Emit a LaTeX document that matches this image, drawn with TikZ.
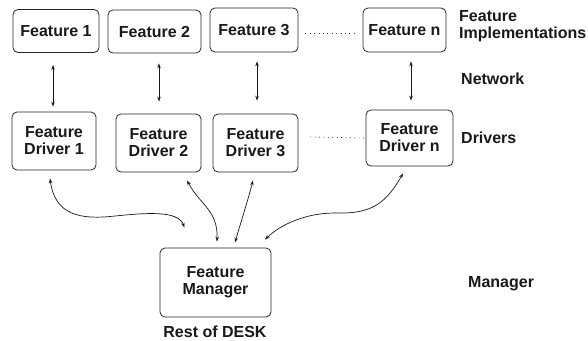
\documentclass[tikz,border=0pt]{standalone}
\usepackage{fontspec}
\setmainfont{Liberation Sans}
\usetikzlibrary{arrows.meta,calc}
\begin{document}
\begin{tikzpicture}[x=1pt,y=-1pt,
  txt/.style={font=\fontsize{16}{17}\selectfont\bfseries,text=black!90},
  box/.style={txt,draw=black!85,line width=0.8pt,rounded corners=5pt,align=center,inner sep=0pt},
  lab/.style={txt,inner sep=0pt,align=left,anchor=base west},
  conn/.style={line width=0.7pt,draw=black!90,{Stealth[length=5pt,width=3.5pt]}-{Stealth[length=5pt,width=3.5pt]}},
  dots/.style={line width=0.7pt,dash pattern=on 0.8pt off 3.6pt,draw=black!80}]
\useasboundingbox (0,0) rectangle (588,340);
\node[box,minimum width=86,minimum height=43] (F1) at (56,31) {Feature 1};
\node[box,minimum width=93,minimum height=43] (F2) at (154.5,31.5) {Feature 2};
\node[box,minimum width=88,minimum height=44] (F3) at (254,30) {Feature 3};
\node[box,minimum width=83,minimum height=44] (Fn) at (404.5,30) {Feature n};
\node[box,minimum width=84,minimum height=58] (D1) at (54,141) {Feature\\Driver 1};
\node[box,minimum width=85,minimum height=58] (D2) at (158.5,143) {Feature\\Driver 2};
\node[box,minimum width=85,minimum height=58] (D3) at (255.5,143) {Feature\\Driver 3};
\node[box,minimum width=87,minimum height=56] (Dn) at (409.5,138) {Feature\\Driver n};
\node[box,minimum width=111,minimum height=69] (M) at (215.5,282.5) {Feature\\Manager};
\node[txt,inner sep=0pt,anchor=base] (R) at (215,337) {Rest of DESK};
\node[lab] (LI) at (459,38) {Feature\\Implementations};
\node[lab] (LN) at (461,84) {Network};
\node[lab] (LD) at (461,143) {Drivers};
\node[lab] (LM) at (468,287) {Manager};
% vertical arrows
\draw[conn] ($(F1.south)+(-3,12)$) -- ($(D1.north)+(-1,-5)$);
\draw[conn] ($(F2.south)+(4.5,10)$) -- ($(D2.north)+(0.5,-12)$);
\draw[conn] ($(F3.south)+(3,9)$) -- ($(D3.north)+(1.5,-13)$);
\draw[conn] ($(Fn.south)+(6.5,9)$) -- ($(Dn.north)+(1.5,-9)$);
% dotted
\draw[dots] ($(F3.east)+(7,3)$) -- ($(Fn.west)+(-6,3)$);
\draw[dots] ($(D3.east)+(12,-6)$) -- (Dn.west);
% curves
\draw[conn] ($(D1.south)+(-4,8)$) .. controls (55,215) and (80,220) .. (115,216) .. controls (145,213) and (178,210) .. ($(M.north)+(-31,-20)$);
\draw[conn] ($(D2.south)+(28.5,8)$) .. controls (200,205) and (218,210) .. ($(M.north)+(1.5,-6)$);
\draw[conn] ($(D3.south)+(-2.5,8)$) .. controls (248,200) and (240,225) .. ($(M.north)+(19.5,-5)$);
\draw[conn] ($(Dn.south)+(-6.5,7)$) .. controls (385,205) and (370,214) .. (335,213) .. controls (305,213) and (280,225) .. ($(M.north)+(49.5,-8)$);
\end{tikzpicture}
\end{document}
